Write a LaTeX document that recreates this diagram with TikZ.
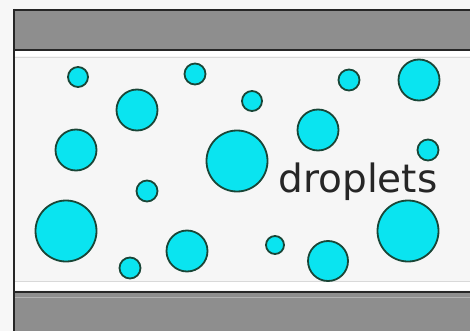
\documentclass[tikz,border=0pt]{standalone}
\usepackage{fontspec}
\setmainfont{DejaVu Sans}
\definecolor{bandgray}{RGB}{142,142,142}
\definecolor{paper}{RGB}{246,246,246}
\definecolor{dropfill}{RGB}{10,228,240}
\definecolor{dropedge}{RGB}{25,70,55}
\begin{document}
\begin{tikzpicture}[x=1pt,y=-1pt,
  drop/.style={circle,fill=dropfill,draw=dropedge,line width=1.8pt,inner sep=0pt,minimum size=#1},
  band/.style={fill=bandgray,draw=none},
  edge/.style={line width=2pt,draw=black!85}]
\useasboundingbox (0,0) rectangle (470,331);
\fill[white!97!black] (0,0) rectangle (470,331);
\fill[paper] (14,50) rectangle (470,292);
\fill[white] (14,51) rectangle (470,56);
\fill[white] (14,282) rectangle (470,290);
\draw[black!15,line width=0.8pt] (14,57) -- (470,57);
\draw[black!15,line width=0.8pt] (14,281) -- (470,281);
% top band
\fill[band] (14,10) rectangle (470,50);
\draw[edge] (14,10) -- (470,10);
\draw[edge] (14,50) -- (470,50);
% bottom band
\fill[band] (14,292) rectangle (470,331);
\draw[edge] (14,292) -- (470,292);
\draw[black!30,line width=0.8pt] (14,297) -- (470,297);
% left wall
\draw[edge] (14,9) -- (14,331);
% droplets
\node[drop=20pt] (d1) at (78,77) {};
\node[drop=21pt] (d2) at (195,74) {};
\node[drop=41pt] (d3) at (137,110) {};
\node[drop=20pt] (d4) at (252,101) {};
\node[drop=21pt] (d5) at (349,80) {};
\node[drop=41pt] (d6) at (419,80) {};
\node[drop=41pt] (d7) at (76,150) {};
\node[drop=61pt] (d8) at (237,161) {};
\node[drop=41pt] (d9) at (318,130) {};
\node[drop=21pt] (d10) at (428,150) {};
\node[drop=21pt] (d11) at (147,191) {};
\node[drop=61pt] (d12) at (66,231) {};
\node[drop=41pt] (d13) at (187,251) {};
\node[drop=21pt] (d14) at (130,268) {};
\node[drop=18pt] (d15) at (275,245) {};
\node[drop=40pt] (d16) at (328,261) {};
\node[drop=61pt] (d17) at (408,231) {};
\node[font=\fontsize{39}{43}\selectfont,text=black!85,inner sep=0pt,anchor=base] (lbl) at (358,192) {droplets};
\end{tikzpicture}
\end{document}
